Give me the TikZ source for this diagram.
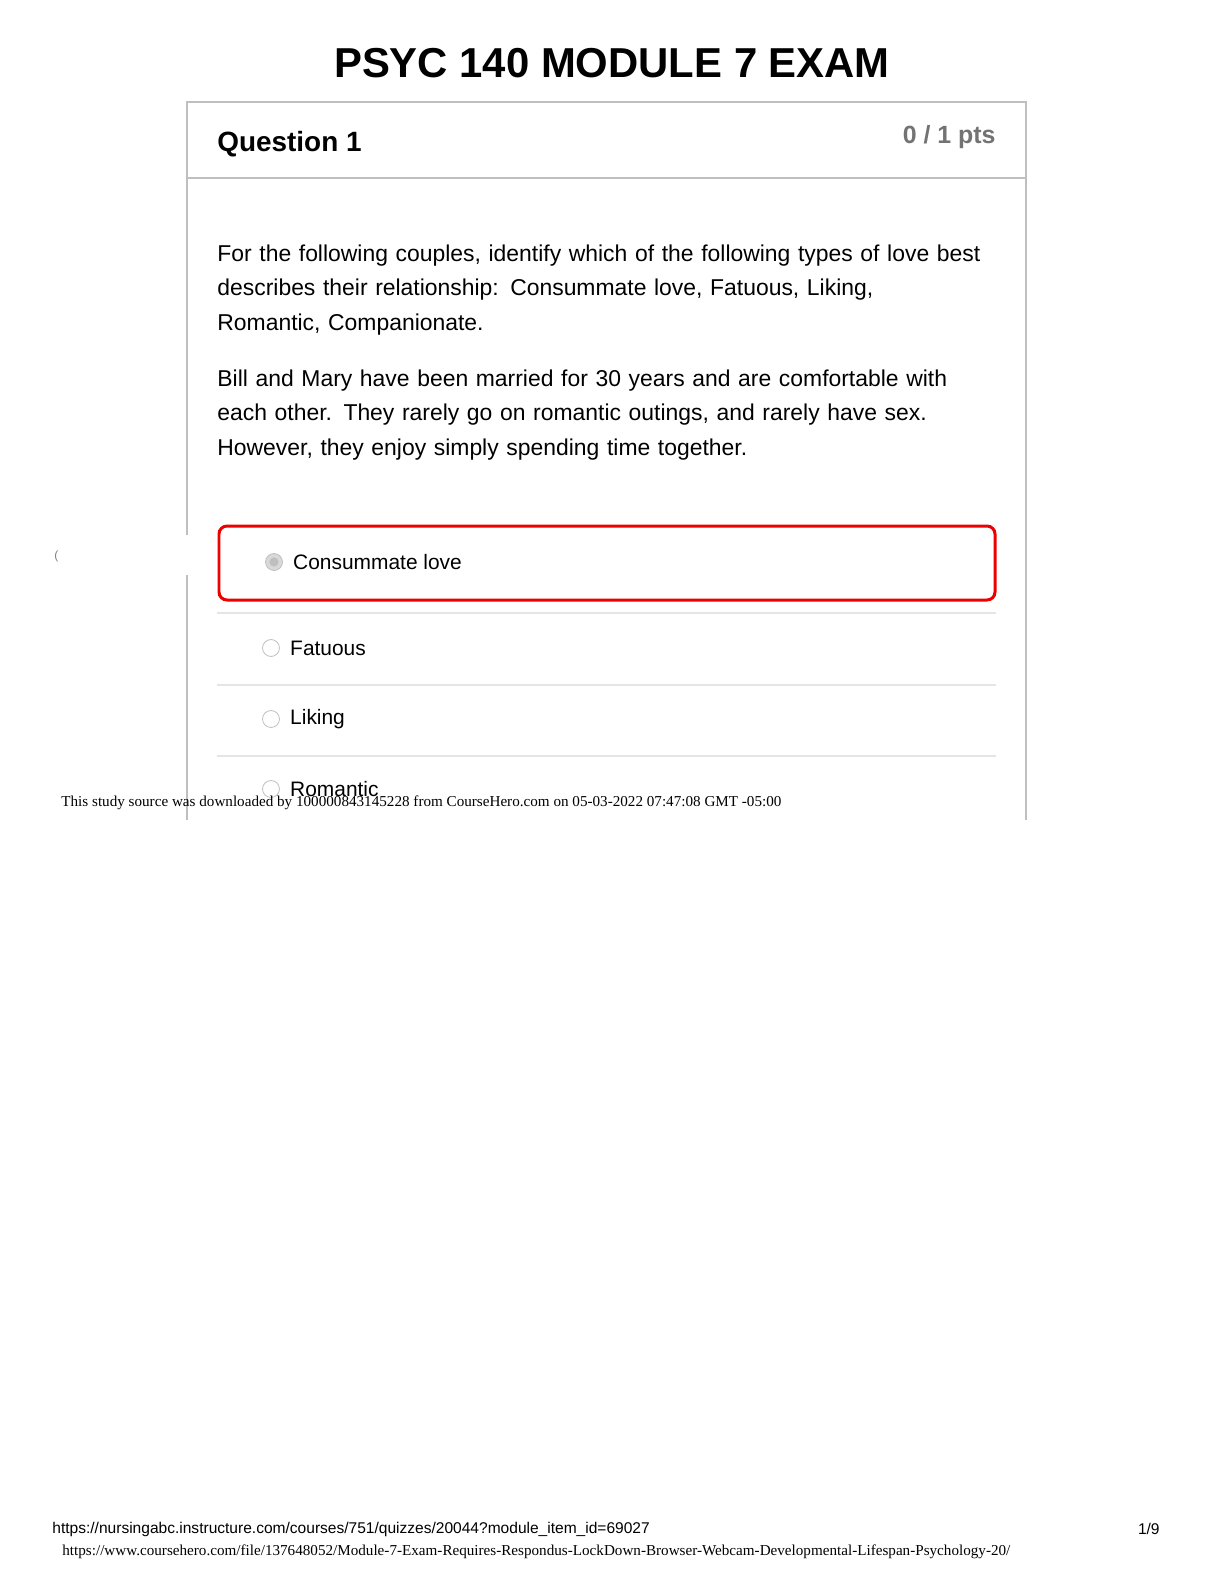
\documentclass[tikz,border=0pt]{standalone}
\usepackage{fontspec}
\setmainfont{Liberation Sans}
\newfontfamily\timesfont{Liberation Serif}
\usetikzlibrary{positioning}
\definecolor{frame}{gray}{0.75}
\definecolor{ptsgray}{gray}{0.45}
\definecolor{sepgray}{gray}{0.9}
\definecolor{wrongred}{RGB}{236,0,0}
\tikzset{
  body/.style={anchor=north west, text width=392bp, align=left, font=\fontsize{11.5}{17.5}\selectfont, inner sep=0pt},
  answer/.style={anchor=west, font=\fontsize{10.5}{12}\selectfont, inner sep=0pt},
  radio/.style={circle, draw=frame, minimum size=8.5pt, inner sep=0pt},
  sep/.style={draw=sepgray, line width=0.6pt},
  stamp/.style={anchor=west, font=\timesfont\fontsize{7.6}{9}\selectfont, inner sep=0pt},
  foot/.style={anchor=west, font=\fontsize{7.8}{9}\selectfont, inner sep=0pt}
}
\begin{document}
\begin{tikzpicture}[x=0.5bp,y=-0.5bp]
  \useasboundingbox[fill=white] (0,0) rectangle (1224,1584);
  % title
  \node[font=\bfseries\fontsize{21}{24}\selectfont] (title) at (612,63) {PSYC 140 MODULE 7 EXAM};
  % question frame
  \draw[frame, line width=0.8pt] (187,535) -- (187,102) -- (1026,102) -- (1026,820);
  \draw[frame, line width=0.8pt] (187,575) -- (187,820);
  \draw[frame, line width=0.8pt] (187,178) -- (1026,178);
  \node[anchor=west, font=\bfseries\fontsize{14}{16}\selectfont, inner sep=0pt] (qhead) at (217,144) {Question 1};
  \node[anchor=east, font=\bfseries\fontsize{12.5}{14}\selectfont, text=ptsgray, inner sep=0pt] (pts) at (996,137) {0 / 1 pts};
  % question text
  \node[body] (para1) at (217,244) {For the following couples, identify which of the following types of love best describes their relationship: Consummate love, Fatuous, Liking,\\ Romantic, Companionate.};
  \node[body] (para2) at (217,369) {Bill and Mary have been married for 30 years and are comfortable with each other. They rarely go on romantic outings, and rarely have sex.\\ However, they enjoy simply spending time together.};
  % answers
  \draw[wrongred, line width=1.5pt, rounded corners=4pt] (219,526) rectangle (995,600);
  \node[radio, fill=frame!60, path picture={\fill[frame] (path picture bounding box.center) circle (2.3pt);}] (r1) at (274,562) {};
  \node[answer, right=5pt of r1] (a1) {Consummate love};
  \draw[sep] (217,613) -- (996,613);
  \node[radio] (r2) at (271,648) {};
  \node[answer, right=5pt of r2] (a2) {Fatuous};
  \draw[sep] (217,685) -- (996,685);
  \node[radio] (r3) at (271,719) {};
  \node[answer, right=5pt of r3] (a3) {Liking};
  \draw[sep] (217,756) -- (996,756);
  \node[radio] (r4) at (271,789) {};
  \node[answer, right=5pt of r4] (a4) {Romantic};
  \node[anchor=west, font=\fontsize{6}{7}\selectfont, text=gray, inner sep=0pt] (paren) at (54,556) {(};
  % stamps and footer
  \node[stamp] (src) at (61,803) {This study source was downloaded by 100000843145228 from CourseHero.com on 05-03-2022 07:47:08 GMT -05:00};
  \node[foot] (url) at (52,1529) {https://nursingabc.instructure.com/courses/751/quizzes/20044?module\_item\_id=69027};
  \node[foot, anchor=east] (page) at (1160,1529) {1/9};
  \node[stamp] (churl) at (62,1552) {https://www.coursehero.com/file/137648052/Module-7-Exam-Requires-Respondus-LockDown-Browser-Webcam-Developmental-Lifespan-Psychology-20/};
\end{tikzpicture}
\end{document}
